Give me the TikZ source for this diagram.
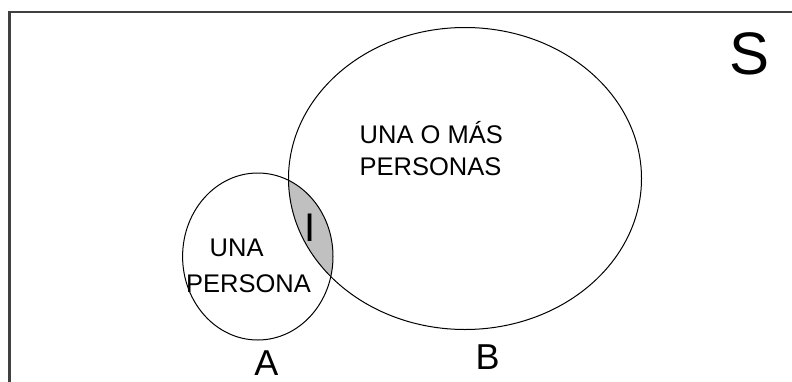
\documentclass[tikz,border=0pt]{standalone}
\usepackage{fontspec}
\setmainfont{Liberation Sans}
\usetikzlibrary{positioning}
\definecolor{framegray}{RGB}{64,64,64}
\definecolor{lensgray}{RGB}{192,192,192}
\tikzstyle{setline} = [draw=black, line width=1pt]
\tikzstyle{settext} = [inner sep=0pt, anchor=base west, font=\fontsize{25.5}{30}\selectfont]
\tikzstyle{setname} = [inner sep=0pt, anchor=base, font=\fontsize{37}{40}\selectfont]
\begin{document}
\begin{tikzpicture}[x=1pt, y=-1pt]
\useasboundingbox (0,0) rectangle (792,381);
\clip (0,0) rectangle (792,381);

% Universe frame
\draw[framegray, line width=2.6pt] (9.7,400) -- (9.7,12) -- (810,12);

% Centres of the sets
\coordinate (ca) at (257.8,256.5);
\coordinate (cb) at (465,178.5);

% Shaded intersection
\begin{scope}
  \clip (ca) ellipse [x radius=75.2, y radius=83.5];
  \fill[lensgray] (cb) ellipse [x radius=176.5, y radius=151];
\end{scope}

% Sets A and B
\draw[setline] (ca) ellipse [x radius=75.2, y radius=83.5];
\draw[setline] (cb) ellipse [x radius=176.5, y radius=151];

% Texts inside the sets
\node[settext] (many1) at (359.5,143) {UNA O MÁS};
\node[settext] (many2) at (359.5,175) {PERSONAS};
\node[settext] (one1) at (209.5,256.7) {UNA};
\node[settext] (one2) at (186,292.5) {PERSONA};
\node[setname, font=\fontsize{40}{44}\selectfont] (inter) at (309.8,241.7) {I};

% Names of the sets
\node[setname, font=\fontsize{36}{40}\selectfont] (la) at (266.5,375) {A};
\node[setname, font=\fontsize{36}{40}\selectfont] (lb) at (487.5,369.3) {B};
\node[setname, font=\fontsize{60}{64}\selectfont] (ls) at (749,74) {S};

\end{tikzpicture}
\end{document}
